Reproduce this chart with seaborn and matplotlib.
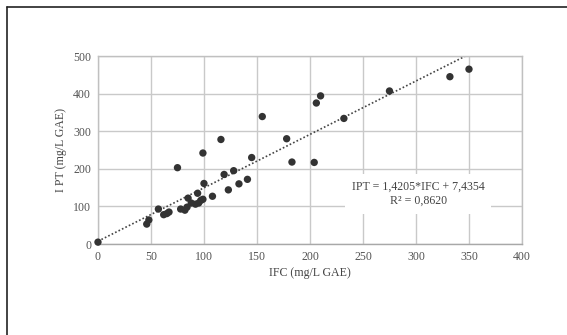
import numpy as np
import pandas as pd
import matplotlib
matplotlib.use("Agg")
import matplotlib.pyplot as plt
from matplotlib.lines import Line2D
import seaborn as sns

# data
ifc = [0, 46, 48, 57, 62, 65, 67, 75, 78, 82, 84, 85, 88, 92, 94, 95, 97, 99,
       99, 100, 108, 116, 119, 123, 128, 133, 141, 145, 155, 178, 183, 204,
       206, 210, 232, 275, 332, 350]
ipt = [5, 53, 64, 93, 78, 81, 85, 203, 93, 90, 98, 122, 109, 106, 135, 109,
       116, 242, 119, 161, 127, 278, 185, 144, 195, 160, 172, 230, 339, 280,
       218, 217, 375, 394, 334, 407, 445, 465]
slope = 1.4205
intercept = 7.4354
x_ticks = [0, 50, 100, 150, 200, 250, 300, 350, 400]
y_ticks = [0, 100, 200, 300, 400, 500]

df = pd.DataFrame({"IFC": ifc, "IPT": ipt})

sns.set_style("white")
plt.rcParams["font.family"] = ["Liberation Serif", "DejaVu Serif"]

fig = plt.figure(figsize=(5.67, 3.35), dpi=100)
ax = fig.add_axes([0.1728, 0.2716, 0.7478, 0.5612])

ax.set_axisbelow(True)
ax.grid(True, color="#c9c9c9", linewidth=1.0)

# trend line
xl = np.array([0, (500 - intercept) / slope])
ax.plot(xl, slope * xl + intercept, linestyle=(0, (1, 1.3)), color="#444444",
        linewidth=1.2, zorder=2)

sns.scatterplot(data=df, x="IFC", y="IPT", ax=ax, color="#333333", s=28,
                edgecolor="none", zorder=3, clip_on=False)

ax.set_xlim(0, 400)
ax.set_ylim(0, 500)
ax.set_xticks(x_ticks)
ax.set_yticks(y_ticks)
ax.tick_params(axis="both", labelsize=8.6, colors="#555555", length=0, pad=5)
for s in ax.spines.values():
    s.set_color("#c0c0c0")
    s.set_linewidth(1.0)
ax.spines["bottom"].set_color("#a8a8a8")

ax.set_xlabel("IFC (mg/L GAE)", fontsize=8.6, color="#444444", labelpad=3)
ax.set_ylabel("I PT (mg/L GAE)", fontsize=8.6, color="#444444", labelpad=4)

ax.text(302, 134, "IPT = 1,4205*IFC + 7,4354\nR² = 0,8620", fontsize=8.6,
        color="#444444", ha="center", va="center", linespacing=1.25,
        bbox=dict(facecolor="white", edgecolor="none", pad=5), zorder=4)

# frame lines at left and top of the figure
fig.add_artist(Line2D([6.5 / 567, 6.5 / 567], [0, 1 - 7 / 335],
                      color="#222222", linewidth=1.2))
fig.add_artist(Line2D([6.5 / 567, 1], [1 - 7 / 335, 1 - 7 / 335],
                      color="#222222", linewidth=1.2))

fig.savefig("out.png", dpi=100)
